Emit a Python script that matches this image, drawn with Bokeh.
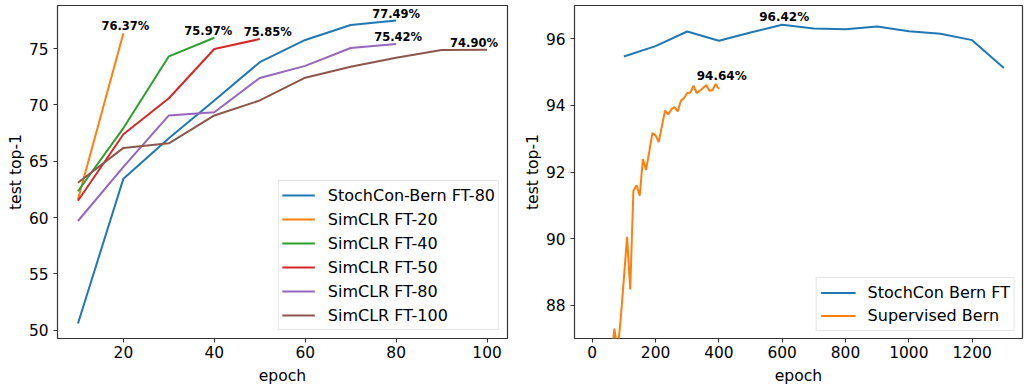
from bokeh.plotting import figure
from bokeh.layouts import row
from bokeh.models import (ColumnDataSource, Range1d, FixedTicker, Legend, LegendItem, LabelSet)
from bokeh.core.properties import value
from bokeh.embed import file_html
from bokeh.resources import INLINE

# ---------------- data: left panel ----------------
left_series_names = ["StochCon-Bern FT-80", "SimCLR FT-20", "SimCLR FT-40",
                     "SimCLR FT-50", "SimCLR FT-80", "SimCLR FT-100"]
stochcon_ft80_epochs = [10, 20, 30, 40, 50, 60, 70, 80]
stochcon_ft80_acc = [50.6, 63.46, 67.04, 70.4, 73.8, 75.77, 77.1, 77.49]
simclr_ft20_epochs = [10, 20]
simclr_ft20_acc = [61.6, 76.37]
simclr_ft40_epochs = [10, 20, 30, 40]
simclr_ft40_acc = [62.34, 67.95, 74.32, 75.97]
simclr_ft50_epochs = [10, 20, 30, 40, 50]
simclr_ft50_acc = [61.5, 67.4, 70.6, 74.97, 75.85]
simclr_ft80_epochs = [10, 20, 30, 40, 50, 60, 70, 80]
simclr_ft80_acc = [59.7, 64.5, 69.07, 69.36, 72.4, 73.47, 75.06, 75.42]
simclr_ft100_epochs = [10, 20, 30, 40, 50, 60, 70, 80, 90, 100]
simclr_ft100_acc = [63.1, 66.19, 66.6, 69.07, 70.4, 72.42, 73.39, 74.2, 74.88, 74.90]

left_x_ticks = [20, 40, 60, 80, 100]
left_y_ticks = [50, 55, 60, 65, 70, 75]

# ---------------- data: right panel ----------------
right_series_names = ["StochCon Bern FT", "Supervised Bern"]
stochcon_bern_epochs = [100, 200, 300, 400, 500, 600, 700, 800, 900, 1000, 1100, 1200, 1300]
stochcon_bern_acc = [95.47, 95.78, 96.22, 95.94, 96.19, 96.42, 96.31, 96.29, 96.37, 96.23, 96.15, 95.96, 95.12]
supervised_bern_epochs = [60, 70, 80, 90, 100, 110, 120, 130, 140, 150, 160, 170, 180, 190, 200,
                          210, 220, 230, 240, 250, 260, 270, 280, 290, 300, 310, 320, 330, 340,
                          350, 360, 370, 380, 390, 400]
supervised_bern_acc = [86.4, 87.3, 86.6, 87.6, 88.8, 90.05, 88.47, 91.43, 91.6, 91.29, 92.39, 92.06,
                       92.6, 93.17, 93.10, 92.90, 93.38, 93.84, 93.73, 93.88, 93.95, 93.82, 94.14,
                       94.22, 94.37, 94.39, 94.59, 94.37, 94.44, 94.52, 94.61, 94.44, 94.46, 94.64, 94.49]

right_x_ticks = [0, 200, 400, 600, 800, 1000, 1200]
right_y_ticks = [88, 90, 92, 94, 96]

colors = ["#1f77b4", "#ff7f0e", "#2ca02c", "#d62728", "#9467bd", "#8c564b"]
FONT = "DejaVu Sans"
FS = "15.4px"


def style(p):
    p.outline_line_color = "#333333"
    p.outline_line_width = 1.2
    p.grid.visible = False
    for ax in (p.xaxis[0], p.yaxis[0]):
        ax.axis_line_color = None
        ax.major_tick_in = 0
        ax.major_tick_out = 4
        ax.major_tick_line_color = "#333333"
        ax.major_tick_line_width = 1.1
        ax.minor_tick_line_color = None
        ax.major_label_text_font = FONT
        ax.major_label_text_font_size = FS
        ax.major_label_text_color = "black"
        ax.axis_label_text_font = FONT
        ax.axis_label_text_font_size = "15.6px"
        ax.axis_label_text_font_style = "normal"
        ax.axis_label_text_color = "black"
    p.xaxis[0].major_label_standoff = 3
    p.xaxis[0].axis_label_standoff = 6
    p.yaxis[0].major_label_standoff = 5
    p.yaxis[0].axis_label_standoff = 1


def peak_label(p, xs, ys, size, x_off, y_off):
    i = max(range(len(ys)), key=lambda k: ys[k])
    src = ColumnDataSource(dict(x=[xs[i]], y=[ys[i]], t=["%.2f%%" % ys[i]]))
    lab = LabelSet(x="x", y="y", text="t", source=src, text_align="center",
                   text_baseline="alphabetic", text_font=value(FONT),
                   text_font_style="bold", text_font_size=value(size),
                   text_color="black", x_offset=x_off, y_offset=y_off)
    p.add_layout(lab)


# ---------------- left figure ----------------
p1 = figure(width=518, height=387, output_backend="svg", toolbar_location=None,
            x_range=Range1d(5.5, 104.5), y_range=Range1d(49.27, 78.83),
            min_border_left=57, min_border_right=11, min_border_top=5, min_border_bottom=46)
style(p1)
p1.xaxis.axis_label = "epoch"
p1.yaxis.axis_label = "test top-1"
p1.xaxis.ticker = FixedTicker(ticks=left_x_ticks)
p1.yaxis.ticker = FixedTicker(ticks=left_y_ticks)

left_data = [(stochcon_ft80_epochs, stochcon_ft80_acc), (simclr_ft20_epochs, simclr_ft20_acc),
             (simclr_ft40_epochs, simclr_ft40_acc), (simclr_ft50_epochs, simclr_ft50_acc),
             (simclr_ft80_epochs, simclr_ft80_acc), (simclr_ft100_epochs, simclr_ft100_acc)]
left_offsets = [0, 2, -6, 8, 2, -13]
items = []
for (xs, ys), name, c, xo in zip(left_data, left_series_names, colors, left_offsets):
    r = p1.line(xs, ys, line_color=c, line_width=2)
    items.append(LegendItem(label=name, renderers=[r]))
    peak_label(p1, xs, ys, "11.5px", xo, 3)

leg1 = Legend(items=items, location="bottom_right", margin=8, padding=3, spacing=2,
              label_height=22, glyph_height=22, glyph_width=33, label_standoff=13,
              label_text_font=FONT, label_text_font_size="16px", label_text_color="black",
              border_line_color="#cccccc", border_line_width=1,
              background_fill_alpha=0.8)
p1.add_layout(leg1)

# ---------------- right figure ----------------
p2 = figure(width=506, height=387, output_backend="svg", toolbar_location=None,
            x_range=Range1d(-56, 1359), y_range=Range1d(87.0, 97.0),
            min_border_left=56, min_border_right=2, min_border_top=5, min_border_bottom=46)
style(p2)
p2.xaxis.axis_label = "epoch"
p2.yaxis.axis_label = "test top-1"
p2.xaxis.ticker = FixedTicker(ticks=right_x_ticks)
p2.yaxis.ticker = FixedTicker(ticks=right_y_ticks)

right_data = [(stochcon_bern_epochs, stochcon_bern_acc), (supervised_bern_epochs, supervised_bern_acc)]
right_offsets = [2, 6]
items2 = []
for (xs, ys), name, c, xo in zip(right_data, right_series_names, colors[:2], right_offsets):
    r = p2.line(xs, ys, line_color=c, line_width=2)
    items2.append(LegendItem(label=name, renderers=[r]))
    peak_label(p2, xs, ys, "12px", xo, 4)

leg2 = Legend(items=items2, location="bottom_right", margin=7, padding=4, spacing=2,
              label_height=21, glyph_height=21, glyph_width=35, label_standoff=12,
              label_text_font=FONT, label_text_font_size="16px", label_text_color="black",
              border_line_color="#cccccc", border_line_width=1,
              background_fill_alpha=0.8)
p2.add_layout(leg2)

layout = row(p1, p2)
open("out.html", "w").write(file_html(layout, INLINE))
